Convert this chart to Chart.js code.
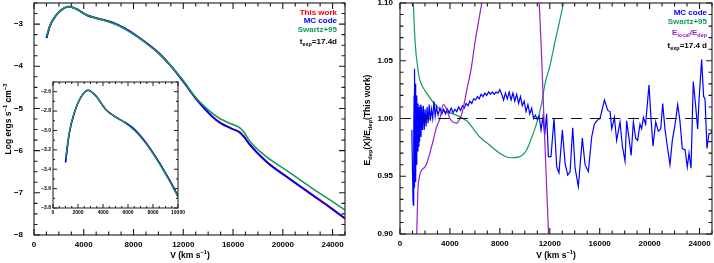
<!DOCTYPE html>
<html>
<head>
<meta charset="utf-8">
<script src="https://cdn.jsdelivr.net/npm/chart.js@4.4.0/dist/chart.umd.min.js"></script>
<style>
  body { margin: 0; background: #fff; }
  #wrap { position: relative; width: 714px; height: 263px; }
  canvas { position: absolute; }
</style>
</head>
<body>
<div id="wrap">
  <canvas id="left" width="357" height="263" style="left:0;top:0"></canvas>
  <canvas id="inset" width="150" height="140" style="left:37px;top:79px"></canvas>
  <canvas id="right" width="357" height="263" style="left:357px;top:0"></canvas>
</div>
<script>
// left panel: deposited energy, log ergs s^-1 cm^-3
const leftVel   = [1000, 1300, 1700, 2200, 2800, 3400, 4200, 5000, 5800, 6600, 7400, 8200, 9000, 10000,
                   11000, 12000, 13000, 14400, 15000, 15900, 16500, 16900, 17300, 18700, 20300, 22400, 23700, 25000];
const thisWork  = [-3.33, -3.03, -2.82, -2.665, -2.585, -2.64, -2.78, -2.86, -2.92, -3.00, -3.12, -3.27, -3.44, -3.68,
                   -3.99, -4.36, -4.76, -5.21, -5.34, -5.48, -5.56, -5.67, -5.84, -6.26, -6.61, -7.05, -7.32, -7.61];
const mcCode    = [-3.33, -3.03, -2.82, -2.665, -2.585, -2.64, -2.78, -2.86, -2.92, -3.00, -3.12, -3.27, -3.44, -3.68,
                   -3.99, -4.36, -4.76, -5.21, -5.35, -5.48, -5.56, -5.68, -5.84, -6.27, -6.62, -7.06, -7.33, -7.61];
const swartz95  = [-3.29, -3.02, -2.815, -2.663, -2.585, -2.64, -2.78, -2.86, -2.925, -3.01, -3.13, -3.28, -3.45, -3.69,
                   -3.99, -4.34, -4.74, -5.13, -5.25, -5.37, -5.45, -5.57, -5.76, -6.15, -6.47, -6.90, -7.15, -7.41];

// right panel: E_dep(X)/E_dep(This work)
const ratioVel = [950, 1000, 1040, 1070, 1100, 1130, 1150, 1180, 1210, 1240, 1270, 1300, 1330, 1360, 1400, 1440, 1480,
  1520, 1570, 1620, 1680, 1740, 1800, 1870, 1940, 2010, 2090, 2170, 2250, 2340, 2430, 2520, 2620, 2720, 2820, 2920,
  3050, 3200, 3350, 3500, 3650, 3800, 3950, 4100, 4250, 4400, 4550, 4700, 4850, 5000, 5150, 5300, 5450, 5600, 5750,
  5900, 6050, 6200, 6350, 6500, 6650, 6800, 6950, 7100, 7250, 7400, 7550, 7700, 7850, 8000, 8150, 8300, 8450, 8600,
  8750, 8900, 9050, 9200, 9350, 9500, 9650, 9800, 9950, 10100, 10250, 10400, 10550, 10700, 10850, 11000, 11150, 11300,
  11450, 11600, 11750, 11890, 12100, 12340, 12560, 12740, 13010, 13230, 13440, 13630, 13840, 14030, 14290, 14610,
  14830, 15090, 15360, 15570, 15760, 16030, 16380, 16650, 16830, 16970, 17180, 17360, 17630, 17820, 18030, 18160,
  18350, 18520, 18700, 18880, 19040, 19230, 19360, 19500, 19680, 19950, 20110, 20270, 20490, 20700, 20890, 21050,
  21230, 21420, 21630, 21820, 22030, 22250, 22430, 22620, 22840, 23020, 23160, 23320, 23500, 23690, 23850, 23960,
  24170, 24330, 24440, 24600, 24760, 24920, 25000];
const ratioMC = [0.99, 0.955, 0.93, 0.925, 0.985, 1.02, 0.94, 1.043, 0.96, 1.03, 0.945, 1.02, 0.96, 1.012, 0.972, 1.013, 0.976,
  1.01, 0.98, 1.012, 0.984, 1.01, 0.99, 1.011, 0.99, 1.008, 0.993, 1.01, 0.996, 1.012, 0.998, 1.008, 1.0, 1.015, 1.002, 1.01,
  1.003, 1.009, 1.004, 1.008, 1.004, 1.008, 1.005, 1.009, 1.005, 1.008, 1.006, 1.01, 1.007, 1.011, 1.009, 1.013, 1.011, 1.015, 1.013,
  1.017, 1.016, 1.019, 1.017, 1.021, 1.019, 1.022, 1.02, 1.023, 1.021, 1.023, 1.021, 1.023, 1.022, 1.025, 1.021, 1.016, 1.022, 1.017,
  1.023, 1.016, 1.022, 1.015, 1.021, 1.013, 1.019, 1.011, 1.015, 1.006, 1.012, 1.004, 1.009, 1.0, 1.003, 0.999, 1.002, 0.99,
  1.001, 0.986, 1.004, 0.967, 0.967, 1.0, 0.958, 0.953, 0.99, 0.961, 0.951, 0.954, 0.992, 0.957, 0.941, 0.983,
  0.96, 0.954, 0.984, 0.995, 0.998, 1.0, 1.016, 1.007, 1.006, 0.991, 1.001, 0.981, 0.997, 0.976, 0.963, 0.998,
  0.983, 0.968, 0.997, 0.983, 0.981, 0.995, 0.991, 1.001, 0.995, 1.029, 1.001, 0.976, 0.997, 0.989, 0.991, 1.013,
  0.991, 0.976, 0.96, 0.981, 0.994, 1.012, 0.998, 0.974, 0.973, 0.958, 0.97, 0.957, 1.032, 1.011, 0.991, 1.016,
  1.051, 1.019, 1.017, 0.974, 0.987, 0.987, 0.99];
const swartzVel   = [1000, 1070, 1200, 1470, 1600, 2140, 3200, 4270, 5340, 6400, 6950, 8280, 8900, 9600, 10150, 10500,
                     10950, 11350, 11620, 12020, 12450, 13100, 13200];
const ratioSwartz = [1.12, 1.10, 1.068, 1.04, 1.033, 1.022, 1.008, 1.004, 0.998, 0.984, 0.979, 0.968, 0.966, 0.967, 0.973, 0.982,
                     0.996, 1.013, 1.03, 1.046, 1.068, 1.10, 1.106];
const localVel   = [1250, 1340, 1470, 2000, 2540, 2940, 3200, 3470, 3700, 4000, 4540, 4800, 5000, 5340, 5700, 6010, 6550, 6650,
                    6700, 11050, 11150, 11620, 11900, 11950];
const ratioLocal = [0.86, 0.90, 0.944, 0.958, 0.976, 0.993, 1.0, 1.012, 1.009, 1.0, 0.996, 1.0, 1.006, 1.024, 1.043, 1.066, 1.10, 1.107,
                    null, 1.11, 1.10, 0.976, 0.90, 0.886];
const unityVel = [0, 25000];
const unity    = [1, 1];

// tick labels
const xTicks      = [0, 4000, 8000, 12000, 16000, 20000, 24000];
const leftYTicks  = [-8, -7, -6, -5, -4, -3];
const insetXTicks = [0, 2000, 4000, 6000, 8000, 10000];
const insetYTicks = [-3.8, -3.6, -3.4, -3.2, -3.0, -2.8, -2.6];
const rightYTicks = [0.90, 0.95, 1.00, 1.05, 1.10];

const RED = '#ff0000', BLUE = '#0000ff', GREEN = '#129c5c', PURPLE = '#9a1ccc';
const FONT = "'Liberation Sans', Arial, Helvetica, sans-serif";
Chart.defaults.font.family = FONT;
Chart.defaults.font.weight = 'bold';
Chart.defaults.color = '#000';

const pts = (xs, ys) => xs.map((x, i) => ({ x: x, y: ys[i] }));
const minus = s => s.replace('-', '\u2212');

// boxed frame with inward ticks on all four sides
function frame(cfg) {
  return {
    id: 'frame',
    afterDatasetsDraw(chart) {
      const { ctx, chartArea: a, scales } = chart;
      const isMajor = (v, list) => list.some(t => Math.abs(t - v) < 1e-7);
      ctx.save();
      ctx.strokeStyle = '#1a1a1a';
      ctx.lineWidth = cfg.lw;
      ctx.strokeRect(a.left, a.top, a.right - a.left, a.bottom - a.top);
      ctx.beginPath();
      const sx = scales.x, sy = scales.y;
      let n = Math.round((sx.max - sx.min) / cfg.xMinor);
      for (let i = 0; i <= n; i++) {
        const v = sx.min + i * cfg.xMinor, p = sx.getPixelForValue(v);
        const L = isMajor(v, cfg.xMajor) ? cfg.big : cfg.small;
        ctx.moveTo(p, a.bottom); ctx.lineTo(p, a.bottom - L);
        ctx.moveTo(p, a.top); ctx.lineTo(p, a.top + L);
      }
      n = Math.round((sy.max - sy.min) / cfg.yMinor);
      for (let i = 0; i <= n; i++) {
        const v = sy.min + i * cfg.yMinor, p = sy.getPixelForValue(v);
        const L = isMajor(v, cfg.yMajor) ? cfg.big : cfg.small;
        ctx.moveTo(a.left, p); ctx.lineTo(a.left + L, p);
        ctx.moveTo(a.right, p); ctx.lineTo(a.right - L, p);
      }
      ctx.stroke();
      ctx.restore();
    }
  };
}

// text with sub (1) / superscript (2) pieces
function richText(ctx, parts, x, y, size, color, align, rotate) {
  const small = size * 0.68;
  const font = s => 'bold ' + s + 'px ' + FONT;
  ctx.save();
  ctx.translate(x, y);
  if (rotate) ctx.rotate(-Math.PI / 2);
  ctx.fillStyle = color;
  ctx.textBaseline = 'middle';
  ctx.textAlign = 'left';
  const widths = parts.map(([t, m]) => { ctx.font = font(m ? small : size); return ctx.measureText(t).width; });
  const total = widths.reduce((s, w) => s + w, 0);
  let cx = align === 'right' ? -total : align === 'center' ? -total / 2 : 0;
  parts.forEach(([t, m], i) => {
    ctx.font = font(m ? small : size);
    const dy = m === 1 ? size * 0.32 : m === 2 ? -size * 0.38 : 0;
    ctx.fillText(t, cx, dy);
    cx += widths[i];
  });
  ctx.restore();
}

function notes(fn) {
  return { id: 'notes', afterDraw(chart) { fn(chart.ctx); } };
}

// fixed-size axis: no automatic label overflow padding
function axis(min, max, ticks, fmt, size, padding, horiz, extent) {
  return {
    type: 'linear', min: min, max: max,
    afterBuildTicks: s => { s.ticks = ticks.map(v => ({ value: v })); },
    afterFit: s => {
      if (horiz) s.height = extent; else s.width = extent;
      s.paddingTop = 0; s.paddingBottom = 0; s.paddingLeft = 0; s.paddingRight = 0;
    },
    grid: { display: false, drawTicks: false },
    border: { display: false },
    ticks: { padding: padding, maxRotation: 0, autoSkip: false, font: { size: size }, color: '#000', callback: fmt }
  };
}

const baseOpts = {
  responsive: false,
  animation: false,
  plugins: { legend: { display: false }, tooltip: { enabled: false } },
  elements: { point: { radius: 0 } }
};

// left main panel
new Chart(document.getElementById('left'), {
  type: 'line',
  data: { datasets: [
    { data: pts(leftVel, thisWork), borderColor: RED, borderWidth: 1.8, cubicInterpolationMode: 'monotone', order: 3, clip: 0 },
    { data: pts(leftVel, mcCode), borderColor: BLUE, borderWidth: 1.8, cubicInterpolationMode: 'monotone', order: 2, clip: 0 },
    { data: pts(leftVel, swartz95), borderColor: GREEN, borderWidth: 1.6, cubicInterpolationMode: 'monotone', order: 1, clip: 0 }
  ]},
  options: Object.assign({}, baseOpts, {
    layout: { padding: { top: 3, right: 12, left: 0, bottom: 0 } },
    scales: {
      x: axis(0, 25000, xTicks, v => String(v), 8, 5, true, 28),
      y: axis(-8, -2.5, leftYTicks, v => minus(String(v)), 8, 11, false, 34)
    }
  }),
  plugins: [
    frame({ xMinor: 1000, xMajor: xTicks, yMinor: 0.25, yMajor: leftYTicks, big: 6, small: 3.5, lw: 1.1 }),
    notes(ctx => {
      richText(ctx, [['This work', 0]], 337, 12.5, 8, RED, 'right');
      richText(ctx, [['MC code', 0]], 337, 21, 8, BLUE, 'right');
      richText(ctx, [['Swartz+95', 0]], 337, 29.5, 8, GREEN, 'right');
      richText(ctx, [['t', 0], ['exp', 1], ['=17.4d', 0]], 337, 42, 8, '#000', 'right');
      richText(ctx, [['V (km s', 0], ['\u22121', 2], [')', 0]], 190, 256, 8.5, '#000', 'center');
      richText(ctx, [['Log ergs s', 0], ['\u22121', 2], [' cm', 0], ['\u22123', 2]], 9, 119, 8.5, '#000', 'center', true);
    })
  ]
});

// inset zoom of the low-velocity part
new Chart(document.getElementById('inset'), {
  type: 'line',
  data: { datasets: [
    { data: pts(leftVel, thisWork), borderColor: RED, borderWidth: 1.5, cubicInterpolationMode: 'monotone', order: 3, clip: 0 },
    { data: pts(leftVel, mcCode), borderColor: BLUE, borderWidth: 1.5, cubicInterpolationMode: 'monotone', order: 2, clip: 0 },
    { data: pts(leftVel, swartz95), borderColor: GREEN, borderWidth: 1.3, cubicInterpolationMode: 'monotone', order: 1, clip: 0 }
  ]},
  options: Object.assign({}, baseOpts, {
    layout: { padding: { top: 3, right: 9, left: 0, bottom: 0 } },
    scales: {
      x: axis(0, 10000, insetXTicks, v => String(v), 5, 2, true, 11),
      y: axis(-3.8, -2.5, insetYTicks, v => minus(v.toFixed(1)), 5, 2, false, 16)
    }
  }),
  plugins: [frame({ xMinor: 500, xMajor: insetXTicks, yMinor: 0.1, yMajor: insetYTicks, big: 4, small: 2, lw: 1 })]
});

// right panel: ratios
new Chart(document.getElementById('right'), {
  type: 'line',
  data: { datasets: [
    { data: pts(unityVel, unity), borderColor: '#111', borderWidth: 1.2, borderDash: [11, 8], order: 0, clip: 0 },
    { data: pts(localVel, ratioLocal), borderColor: PURPLE, borderWidth: 1.2, cubicInterpolationMode: 'monotone', order: 1, clip: 0 },
    { data: pts(ratioVel, ratioMC), borderColor: BLUE, borderWidth: 1.2, order: 2, clip: 0 },
    { data: pts(swartzVel, ratioSwartz), borderColor: GREEN, borderWidth: 1.2, cubicInterpolationMode: 'monotone', order: 3, clip: 0 }
  ]},
  options: Object.assign({}, baseOpts, {
    layout: { padding: { top: 3, right: 2, left: 0, bottom: 0 } },
    scales: {
      x: axis(0, 25000, xTicks, v => String(v), 8, 5, true, 29),
      y: axis(0.9, 1.1, rightYTicks, v => v.toFixed(2), 8, 7, false, 43)
    }
  }),
  plugins: [
    frame({ xMinor: 1000, xMajor: xTicks, yMinor: 0.01, yMajor: rightYTicks, big: 6, small: 3.5, lw: 1.1 }),
    notes(ctx => {
      richText(ctx, [['MC code', 0]], 350, 13, 8, BLUE, 'right');
      richText(ctx, [['Swartz+95', 0]], 350, 22, 8, GREEN, 'right');
      richText(ctx, [['E', 0], ['local', 1], ['/E', 0], ['dep', 1]], 350, 33, 8, PURPLE, 'right');
      richText(ctx, [['t', 0], ['exp', 1], ['=17.4 d', 0]], 350, 46, 8, '#000', 'right');
      richText(ctx, [['V (km s', 0], ['\u22121', 2], [')', 0]], 199, 256, 8.5, '#000', 'center');
      richText(ctx, [['E', 0], ['dep', 1], ['(X)/E', 0], ['dep', 1], ['(This work)', 0]], 11, 120, 8.5, '#000', 'center', true);
    })
  ]
});
</script>
</body>
</html>
